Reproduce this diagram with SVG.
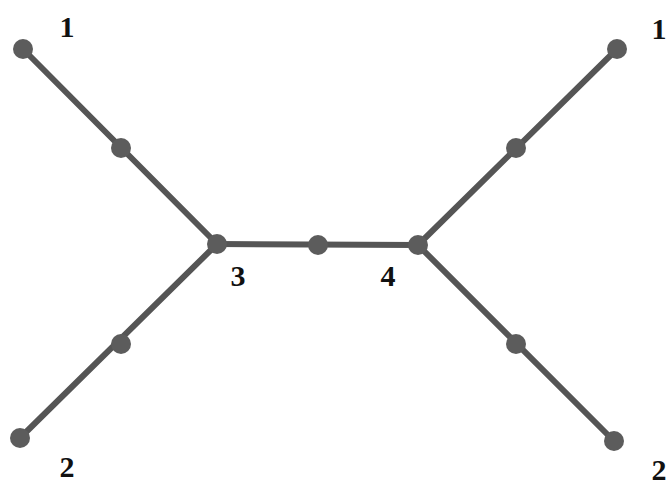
<svg xmlns="http://www.w3.org/2000/svg" width="668" height="486" viewBox="0 0 668 486">
<style>
.e{stroke:#555;stroke-width:6;stroke-linecap:round;fill:none}
.n{fill:#5c5c5c}
.t{font-family:"Liberation Serif","DejaVu Serif",serif;font-size:30px;font-weight:bold;fill:#111;text-anchor:middle}
</style>
<rect width="668" height="486" fill="#fff"/>
<g id="edges">
<line class="e" x1="23" y1="49" x2="217" y2="244"/>
<line class="e" x1="20" y1="438" x2="217" y2="244"/>
<line class="e" x1="217" y1="244" x2="418" y2="245"/>
<line class="e" x1="418" y1="245" x2="617" y2="49"/>
<line class="e" x1="418" y1="245" x2="614" y2="441"/>
</g>
<g id="n1L"><circle class="n" cx="23" cy="49" r="10"/><text class="t" x="67" y="37">1</text></g>
<g id="m1L"><circle class="n" cx="121" cy="148" r="10"/></g>
<g id="n2L"><circle class="n" cx="20" cy="438" r="10"/><text class="t" x="67" y="477">2</text></g>
<g id="m2L"><circle class="n" cx="121" cy="344" r="10"/></g>
<g id="n3"><circle class="n" cx="217" cy="244" r="10"/><text class="t" x="238" y="286">3</text></g>
<g id="mC"><circle class="n" cx="318" cy="245" r="10"/></g>
<g id="n4"><circle class="n" cx="418" cy="245" r="10"/><text class="t" x="388" y="286">4</text></g>
<g id="m1R"><circle class="n" cx="516" cy="148" r="10"/></g>
<g id="n1R"><circle class="n" cx="617" cy="49" r="10"/><text class="t" x="659" y="39">1</text></g>
<g id="m2R"><circle class="n" cx="516" cy="344" r="10"/></g>
<g id="n2R"><circle class="n" cx="614" cy="441" r="10"/><text class="t" x="659" y="480">2</text></g>
</svg>
